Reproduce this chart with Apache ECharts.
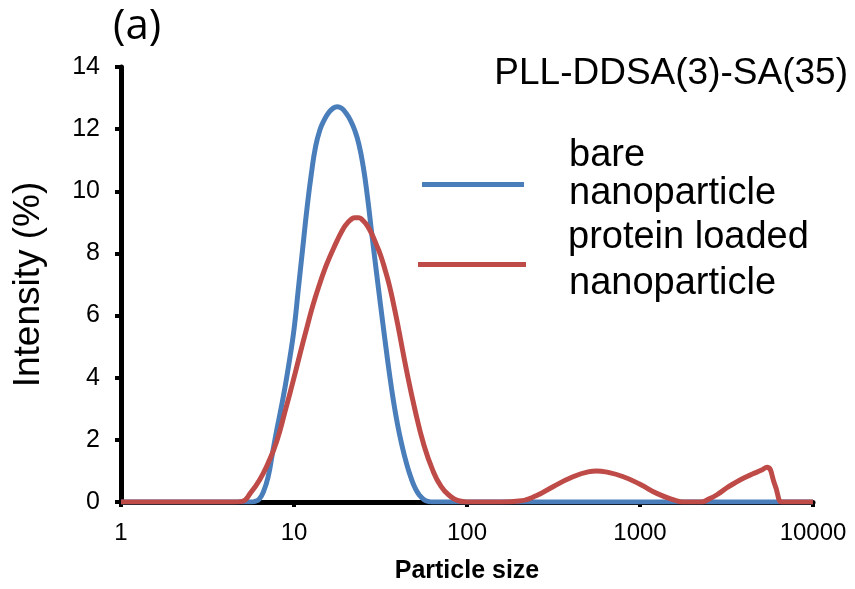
<!DOCTYPE html>
<html>
<head>
<meta charset="utf-8">
<script src="https://cdn.jsdelivr.net/npm/echarts@6/dist/echarts.min.js"></script>
<style>
html,body{margin:0;padding:0;background:#fff;}
#chart{width:855px;height:589px;}
</style>
</head>
<body>
<div id="chart"></div>
<script>
// Particle size (x, log scale) and intensity (%)
var bareSize = [1, 2, 4, 5.0, 5.62, 5.96, 6.31, 6.68, 7.08, 7.50, 7.94, 8.41, 8.91, 9.44, 10.0, 10.59, 11.22, 11.89, 12.59, 13.34, 14.13, 14.96, 15.85, 16.79, 17.78, 18.84, 19.95, 21.13, 22.39, 23.71, 25.12, 26.61, 28.18, 29.85, 31.62, 33.5, 35.48, 37.58, 39.81, 42.17, 44.67, 47.32, 50.12, 53.09, 56.23, 59.57, 63.1, 70.8, 100, 1000, 10000];
var bareIntensity = [0, 0, 0, 0, 0, 0.02, 0.1, 0.35, 0.8, 1.55, 2.3, 3.0, 3.75, 4.6, 5.55, 6.85, 8.15, 9.45, 10.55, 11.45, 11.98, 12.3, 12.53, 12.67, 12.72, 12.67, 12.52, 12.3, 11.98, 11.52, 10.8, 9.8, 8.62, 7.47, 6.35, 5.25, 4.2, 3.25, 2.45, 1.8, 1.25, 0.8, 0.45, 0.22, 0.08, 0.02, 0, 0, 0, 0, 0];

var loadedSize = [1, 2, 4, 4.47, 5.01, 5.62, 6.31, 7.08, 7.94, 8.91, 10.0, 10.59, 11.22, 11.89, 12.59, 13.34, 14.13, 14.96, 15.85, 16.79, 17.78, 18.84, 19.95, 21.13, 22.39, 23.71, 25.12, 26.61, 28.18, 29.85, 31.62, 33.5, 35.48, 37.58, 39.81, 44.67, 50.12, 56.23, 63.1, 70.79, 79.43, 89.13, 100, 112, 158, 200, 251, 316, 398, 501, 562, 631, 794, 1000, 1259, 1585, 1778, 1995, 2239, 2512, 2818, 3162, 3548, 3981, 4467, 5012, 5420, 6026, 6607, 6918, 7500, 10000];
var loadedIntensity = [0, 0, 0, 0, 0.02, 0.3, 0.7, 1.25, 1.95, 2.95, 4.0, 4.55, 5.1, 5.63, 6.15, 6.62, 7.05, 7.45, 7.8, 8.12, 8.42, 8.7, 8.92, 9.07, 9.15, 9.15, 9.05, 8.88, 8.62, 8.3, 7.95, 7.5, 7.0, 6.38, 5.7, 4.25, 2.95, 1.85, 1.05, 0.5, 0.2, 0.04, 0, 0, 0, 0.03, 0.2, 0.5, 0.78, 0.97, 1.0, 0.97, 0.82, 0.57, 0.27, 0.06, 0, 0, 0, 0.1, 0.25, 0.45, 0.62, 0.77, 0.9, 1.02, 1.12, 0.55, 0, 0, 0, 0];

var xTicks = [1, 10, 100, 1000, 10000];
var yTicks = [0, 2, 4, 6, 8, 10, 12, 14];
var seriesNames = ['bare nanoparticle', 'protein loaded nanoparticle'];
var legendLines = [['bare', 'nanoparticle'], ['protein loaded', 'nanoparticle']];
var colors = ['#4A7EBB', '#BE4B48'];

function pairs(xs, ys) {
  return xs.map(function (x, i) { return [x, ys[i]]; });
}

var chart = echarts.init(document.getElementById('chart'), null, {renderer: 'canvas'});
var font = '"Liberation Sans", Arial, sans-serif';

chart.setOption({
  animation: false,
  backgroundColor: '#ffffff',
  grid: {left: 121, right: 42, top: 67, bottom: 85, containLabel: false},
  xAxis: {
    type: 'log',
    logBase: 10,
    min: xTicks[0],
    max: xTicks[xTicks.length - 1],
    name: 'Particle size',
    nameLocation: 'middle',
    nameGap: 57,
    nameTextStyle: {fontFamily: font, fontSize: 25, fontWeight: 'bold', color: '#000'},
    axisLine: {lineStyle: {color: '#000', width: 5}},
    axisTick: {show: true, length: 5, lineStyle: {color: '#000', width: 4}},
    minorTick: {show: false},
    splitLine: {show: false},
    axisLabel: {
      fontFamily: font, fontSize: 24, color: '#000', margin: 19,
      formatter: function (v) { return String(Math.round(v)); }
    }
  },
  yAxis: {
    type: 'value',
    min: yTicks[0],
    max: yTicks[yTicks.length - 1],
    interval: 2,
    name: 'Intensity (%)',
    nameLocation: 'middle',
    nameRotate: 90,
    nameGap: 74,
    nameTextStyle: {fontFamily: font, fontSize: 37, color: '#000'},
    axisLine: {show: true, lineStyle: {color: '#000', width: 5}},
    axisTick: {show: true, length: 6, lineStyle: {color: '#000', width: 4}},
    splitLine: {show: false},
    axisLabel: {fontFamily: font, fontSize: 25, color: '#000', margin: 21}
  },
  series: [
    {
      name: seriesNames[0], type: 'line', data: pairs(bareSize, bareIntensity),
      smooth: 0.5, showSymbol: false, symbol: 'none',
      lineStyle: {color: colors[0], width: 5}, z: 3
    },
    {
      name: seriesNames[1], type: 'line', data: pairs(loadedSize, loadedIntensity),
      smooth: 0.5, showSymbol: false, symbol: 'none',
      lineStyle: {color: colors[1], width: 5}, z: 4
    }
  ],
  graphic: [
    {type: 'text', left: 113, top: 6, style: {text: '(a)', font: '42px "Open Sans", "Noto Sans", sans-serif', fill: '#000'}},
    {type: 'text', right: 7, top: 55, style: {text: 'PLL-DDSA(3)-SA(35)', font: '37px ' + font, fill: '#000'}},
    {type: 'line', shape: {x1: 422, y1: 184.5, x2: 524, y2: 184.5}, style: {stroke: colors[0], lineWidth: 5}},
    {type: 'line', shape: {x1: 418, y1: 264.5, x2: 526, y2: 264.5}, style: {stroke: colors[1], lineWidth: 5}},
    {type: 'text', x: 569, y: 137, style: {text: legendLines[0][0], font: '38px ' + font, fill: '#000'}},
    {type: 'text', x: 569, y: 175, style: {text: legendLines[0][1], font: '38px ' + font, fill: '#000'}},
    {type: 'text', x: 568, y: 219, style: {text: legendLines[1][0], font: '38px ' + font, fill: '#000'}},
    {type: 'text', x: 569, y: 265, style: {text: legendLines[1][1], font: '38px ' + font, fill: '#000'}}
  ]
});
</script>
</body>
</html>
